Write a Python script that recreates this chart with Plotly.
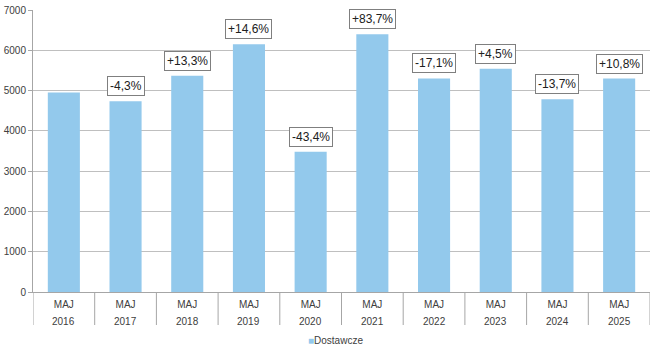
import plotly.graph_objects as go

years = ["2016", "2017", "2018", "2019", "2020", "2021", "2022", "2023", "2024", "2025"]
month = "MAJ"
values = [4950, 4737, 5367, 6151, 3481, 6395, 5302, 5541, 4782, 5298]
changes = ["", "-4,3%", "+13,3%", "+14,6%", "-43,4%", "+83,7%", "-17,1%", "+4,5%", "-13,7%", "+10,8%"]
series_name = "Dostawcze"
y_ticks = [0, 1000, 2000, 3000, 4000, 5000, 6000, 7000]

BAR = "#93C9EC"
TXT = "#404040"
FONT = "Liberation Sans, Arial, sans-serif"

W, H = 660, 354
ml, mr, mt, mb = 33, 10, 10, 62
plot_h = H - mt - mb

x = list(range(len(years)))
fig = go.Figure()
fig.add_trace(go.Bar(x=x, y=values, marker=dict(color=BAR, line=dict(width=0)),
                     showlegend=False, name=series_name))

annotations = []
for i, (v, c) in enumerate(zip(values, changes)):
    if c:
        annotations.append(dict(x=i, y=v, xref="x", yref="y", text=c, showarrow=False,
                                yanchor="bottom", yshift=5,
                                font=dict(family=FONT, size=12, color="#202020"),
                                bgcolor="white", bordercolor="#7f7f7f", borderwidth=1, borderpad=2))
    annotations.append(dict(x=i, y=-(321 - (H - mb)) / plot_h, xref="x", yref="paper",
                            text=years[i], showarrow=False, yanchor="middle",
                            font=dict(family=FONT, size=10, color=TXT)))

# legend (bottom centre)
annotations.append(dict(x=(306 - ml) / (W - ml - mr), xref="paper", xanchor="left",
                        y=-(340 - (H - mb)) / plot_h, yref="paper", yanchor="middle",
                        showarrow=False,
                        text=f"<span style='color:{BAR}'>■</span>{series_name}",
                        font=dict(family=FONT, size=10, color=TXT)))

shapes = []
sep_len = (325 - (H - mb)) / plot_h
for i in range(len(years) + 1):
    shapes.append(dict(type="line", xref="x", yref="paper", x0=i - 0.5, x1=i - 0.5,
                       y0=0, y1=-sep_len, line=dict(color="#a6a6a6", width=1)))

fig.update_layout(
    width=W, height=H,
    margin=dict(l=ml, r=mr, t=mt, b=mb, autoexpand=False),
    paper_bgcolor="white", plot_bgcolor="white",
    bargap=0.48,
    showlegend=False,
    font=dict(family=FONT, size=10, color=TXT),
    annotations=annotations,
    shapes=shapes,
    xaxis=dict(range=[-0.5, len(years) - 0.5], tickmode="array", tickvals=x,
               ticktext=[month] * len(years), showgrid=False, zeroline=False,
               showline=True, linecolor="#a6a6a6", ticks="", fixedrange=True,
               ticklabelstandoff=3,
               tickfont=dict(family=FONT, size=10, color=TXT)),
    yaxis=dict(range=[0, 7000], tickvals=y_ticks, showgrid=True, gridcolor="#bfbfbf",
               gridwidth=1, zeroline=False, showline=True, linecolor="#a6a6a6",
               ticks="outside", ticklen=4, tickcolor="#a6a6a6",
               tickfont=dict(family=FONT, size=10, color=TXT)),
)

fig.write_html("out.html")
